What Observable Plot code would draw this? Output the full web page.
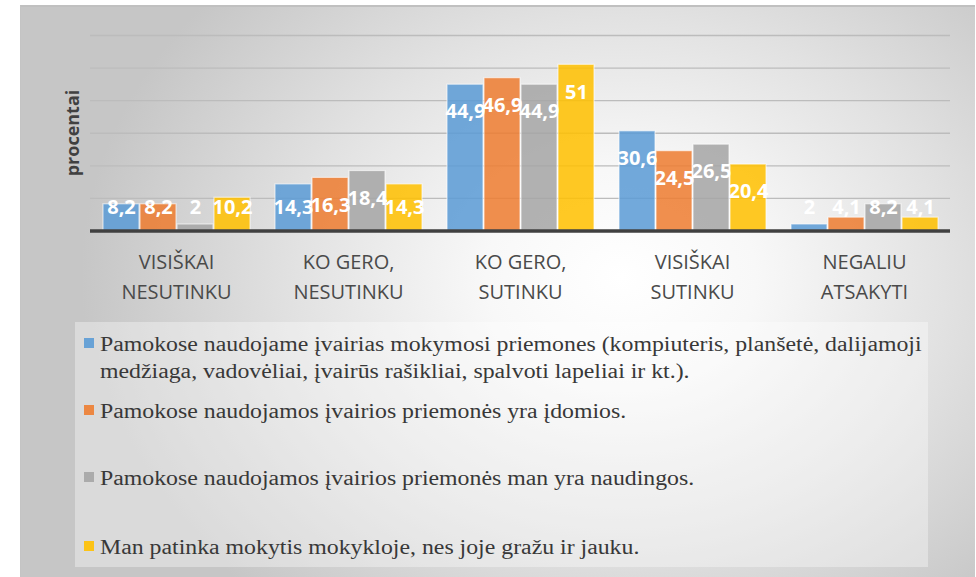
<!DOCTYPE html>
<html>
<head>
<meta charset="utf-8">
<script src="https://cdn.jsdelivr.net/npm/d3@7"></script>
<script src="https://cdn.jsdelivr.net/npm/@observablehq/plot@0.6"></script>
<style>
  html, body { margin: 0; padding: 0; background: #ffffff; }
  #page { position: relative; width: 976px; height: 577px; overflow: hidden; }
  #frame {
    position: absolute; left: 20px; top: 5px; width: 955px; height: 572px;
    border-top: 2px solid #c0c0c0; border-left: 1px solid #c4c4c4; box-sizing: border-box;
    background: radial-gradient(ellipse 540px 430px at 600px 270px, #ffffff 0%, #f8f8f8 25%, #e2e2e2 60%, #c6c6c6 100%);
  }
  #chart { position: absolute; left: 0; top: 0; }
  #ylabel {
    position: absolute; left: 72px; top: 133px; transform: translate(-50%, -50%) rotate(-90deg);
    font-family: "Open Sans", sans-serif; font-weight: bold; font-size: 18px; color: #404040; white-space: nowrap;
  }
  #legend {
    position: absolute; left: 75px; top: 322px; width: 853px; height: 245px;
    background: rgba(255,255,255,0.35);
    font-family: "Liberation Serif", "Times New Roman", serif; font-size: 20px; color: #383838;
  }
  .item { position: absolute; left: 0; width: 853px; line-height: 27px; }
  .sw { position: absolute; left: 9px; top: 7px; width: 10px; height: 10px; opacity: 0.9; }
  .txt { position: absolute; left: 25px; white-space: nowrap; transform-origin: 0 0; transform: scaleX(1.19); }
</style>
</head>
<body>
<div id="page">
  <div id="frame"></div>
  <div id="chart"></div>
  <div id="ylabel">procentai</div>
  <div id="legend"></div>
</div>
<script>
const categories = ["VISIŠKAI\nNESUTINKU", "KO GERO,\nNESUTINKU", "KO GERO,\nSUTINKU", "VISIŠKAI\nSUTINKU", "NEGALIU\nATSAKYTI"];
const seriesNames = [
  "Pamokose naudojame įvairias mokymosi priemones (kompiuteris, planšetė, dalijamoji medžiaga, vadovėliai, įvairūs rašikliai, spalvoti lapeliai ir kt.).",
  "Pamokose naudojamos įvairios priemonės yra įdomios.",
  "Pamokose naudojamos įvairios priemonės man yra naudingos.",
  "Man patinka mokytis mokykloje, nes joje gražu ir jauku."
];
const legendLines = [
  ["Pamokose naudojame įvairias mokymosi priemones (kompiuteris, planšetė, dalijamoji", "medžiaga, vadovėliai, įvairūs rašikliai, spalvoti lapeliai ir kt.)."],
  ["Pamokose naudojamos įvairios priemonės yra įdomios."],
  ["Pamokose naudojamos įvairios priemonės man yra naudingos."],
  ["Man patinka mokytis mokykloje, nes joje gražu ir jauku."]
];
const series1 = [8.2, 14.3, 44.9, 30.6, 2];
const series2 = [8.2, 16.3, 46.9, 24.5, 4.1];
const series3 = [2, 18.4, 44.9, 26.5, 8.2];
const series4 = [10.2, 14.3, 51, 20.4, 4.1];
const seriesValues = [series1, series2, series3, series4];
const colors = ["#5B9BD5", "#ED7D31", "#A5A5A5", "#FFC000"];
const gridTicks = [10, 20, 30, 40, 50, 60];

const data = seriesNames.flatMap((s, i) =>
  categories.map((c, j) => ({category: c, series: s, value: seriesValues[i][j]}))
);
const fmt = v => String(v).replace(".", ",");

const chart = Plot.plot({
  width: 976,
  height: 330,
  marginLeft: 88,
  marginRight: 24,
  marginTop: 35,
  marginBottom: 99.5,
  style: {background: "transparent", overflow: "visible"},
  fx: {domain: categories, padding: 0, label: null},
  x: {domain: seriesNames, axis: null, paddingInner: 0.04, paddingOuter: 0.32},
  y: {domain: [0, 60], axis: null},
  color: {domain: seriesNames, range: colors},
  marks: [
    Plot.ruleY(gridTicks, {stroke: "#bcbcbc", strokeWidth: 1.3}),
    Plot.barY(data, {fx: "category", x: "series", y: "value", fill: "series", fillOpacity: 0.86, stroke: "#ffffff", strokeOpacity: 0.6, strokeWidth: 1.2}),
    Plot.ruleY([0], {stroke: "#404040", strokeWidth: 3.5}),
    Plot.text(data, {
      fx: "category", x: "series",
      y: d => Math.max(d.value - 8.4, 7.1),
      text: d => fmt(d.value),
      fill: "#ffffff", fontWeight: "bold", fontSize: 20, fontFamily: "Open Sans"
    }),
    Plot.axisFx({
      anchor: "bottom", tickSize: 0, tickPadding: 17, label: null,
      fontSize: 20, fontFamily: "Open Sans", lineHeight: 1.5, color: "#4a4a4a"
    })
  ]
});
document.getElementById("chart").appendChild(chart);

const legend = document.getElementById("legend");
const tops = [8.7, 75.7, 142.7, 211.7];
legendLines.forEach((lines, i) => {
  const item = document.createElement("div");
  item.className = "item";
  item.style.top = tops[i] + "px";
  const sw = document.createElement("div");
  sw.className = "sw";
  sw.style.background = colors[i];
  item.appendChild(sw);
  const t = document.createElement("div");
  t.className = "txt";
  t.innerHTML = lines.join("<br>");
  item.appendChild(t);
  legend.appendChild(item);
});
</script>
</body>
</html>
